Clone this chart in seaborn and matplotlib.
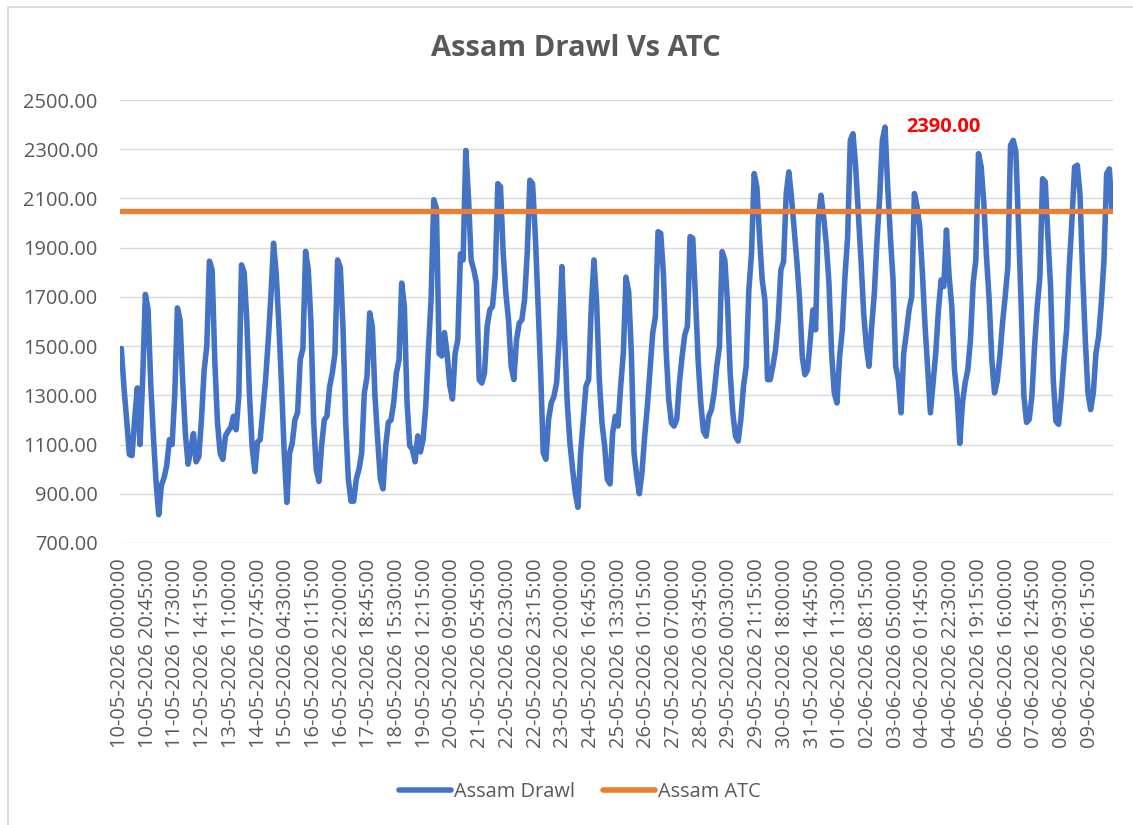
import numpy as np
import pandas as pd
import matplotlib
matplotlib.use('Agg')
import matplotlib.pyplot as plt
import seaborn as sns
from matplotlib.lines import Line2D
from matplotlib.patches import Rectangle

# Assam drawl every 2 hours (01:00, 03:00 ... 23:00), one row per day
week1 = [  # 10-05 .. 16-05
    1490, 1330, 1200, 1060, 1055, 1205, 1330, 1100, 1370, 1710, 1650, 1350,
    1135, 950, 815, 935, 965, 1015, 1120, 1100, 1300, 1655, 1605, 1350,
    1140, 1020, 1080, 1145, 1030, 1050, 1200, 1400, 1500, 1845, 1810, 1440,
    1190, 1065, 1040, 1135, 1155, 1170, 1215, 1160, 1300, 1830, 1800, 1600,
    1300, 1090, 990, 1110, 1120, 1240, 1360, 1520, 1700, 1918, 1795, 1585,
    1340, 1065, 865, 1065, 1105, 1200, 1230, 1445, 1490, 1885, 1810, 1600,
    1200, 1000, 950, 1095, 1200, 1215, 1335, 1390, 1470, 1850, 1820, 1580,
]
week2 = [  # 17-05 .. 23-05
    1200, 960, 870, 870, 960, 1000, 1065, 1310, 1375, 1635, 1580, 1295,
    1120, 960, 920, 1095, 1190, 1200, 1270, 1390, 1445, 1756, 1660, 1270,
    1095, 1080, 1030, 1135, 1070, 1120, 1255, 1485, 1690, 2095, 2060, 1470,
    1460, 1555, 1470, 1340, 1285, 1470, 1525, 1875, 1850, 2295, 2105, 1850,
    1810, 1756, 1364, 1350, 1391, 1580, 1647, 1661, 1783, 2160, 2147, 1877,
    1715, 1607, 1418, 1364, 1526, 1593, 1607, 1688, 1877, 2174, 2160, 1958,
    1688, 1404, 1066, 1040, 1202, 1269, 1296, 1350, 1539, 1823, 1539, 1269,
]
week3 = [  # 24-05 .. 30-05
    1107, 999, 904, 845, 1066, 1202, 1337, 1364, 1661, 1850, 1675, 1364,
    1188, 1094, 958, 940, 1148, 1215, 1175, 1337, 1472, 1780, 1720, 1472,
    1066, 972, 900, 990, 1134, 1256, 1404, 1553, 1620, 1965, 1958, 1796,
    1486, 1283, 1188, 1175, 1202, 1350, 1458, 1546, 1580, 1945, 1938, 1701,
    1445, 1269, 1154, 1134, 1215, 1242, 1310, 1418, 1499, 1884, 1850, 1675,
    1391, 1229, 1134, 1114, 1202, 1337, 1418, 1728, 1877, 2201, 2147, 1945,
    1769, 1688, 1364, 1364, 1418, 1486, 1607, 1810, 1843, 2120, 2208, 2100,
]
week4 = [  # 31-05 .. 06-06
    1972, 1843, 1688, 1458, 1384, 1404, 1526, 1647, 1566, 2012, 2113, 2026,
    1917, 1756, 1472, 1310, 1269, 1458, 1566, 1783, 1945, 2336, 2363, 2228,
    2039, 1850, 1634, 1499, 1418, 1580, 1715, 1931, 2107, 2336, 2390, 2147,
    1945, 1769, 1418, 1364, 1229, 1472, 1553, 1647, 1701, 2120, 2066, 1985,
    1796, 1580, 1404, 1229, 1350, 1472, 1647, 1769, 1742, 1972, 1783, 1661,
    1404, 1296, 1105, 1269, 1350, 1404, 1526, 1756, 1850, 2282, 2228, 2080,
    1864, 1688, 1445, 1310, 1357, 1458, 1593, 1701, 1823, 2316, 2336, 2290,
]
week5 = [  # 07-06 .. 09-06
    1985, 1661, 1296, 1190, 1202, 1296, 1499, 1661, 1783, 2180, 2167, 1945,
    1742, 1364, 1195, 1182, 1296, 1445, 1566, 1823, 2012, 2228, 2235, 2120,
    1796, 1526, 1310, 1242, 1310, 1472, 1539, 1675, 1850, 2201, 2220, 2050,
]
atc_level = 2050.0

y_ticks = [700, 900, 1100, 1300, 1500, 1700, 1900, 2100, 2300, 2500]
series_names = ['Assam Drawl', 'Assam ATC']
colors = ['#4472C4', '#ED7D31']

drawl = week1 + week2 + week3 + week4 + week5
times = pd.date_range('2026-05-10 01:00', periods=len(drawl), freq='2h')
df = pd.DataFrame({'time': times, 'drawl': drawl})
atc_df = pd.DataFrame({'time': [pd.Timestamp('2026-05-10 00:00'), pd.Timestamp('2026-06-09 23:45')],
                       'atc': [atc_level, atc_level]})

# x labels every 20h45m like the source sheet
tick_times = pd.date_range('2026-05-10 00:00', '2026-06-09 06:15', freq='1245min')
tick_labels = [t.strftime('%d-%m-%Y %H:%M:%S') for t in tick_times]

sns.set_style('white')
plt.rcParams['font.family'] = ['Open Sans', 'DejaVu Sans']
text_grey = '#595959'

fig = plt.figure(figsize=(11.33, 8.25), dpi=100)
ax = fig.add_axes([120 / 1133, 1 - 543 / 825, 993 / 1133, 443 / 825])

sns.lineplot(data=df, x='time', y='drawl', ax=ax, color=colors[0], lw=4.0,
             solid_joinstyle='round', solid_capstyle='round', zorder=3)
sns.lineplot(data=atc_df, x='time', y='atc', ax=ax, color=colors[1], lw=3.8, zorder=4)

ax.set_xlim(pd.Timestamp('2026-05-10 00:00'), pd.Timestamp('2026-06-09 23:45'))
ax.set_ylim(700, 2500)
ax.set_yticks(y_ticks)
ax.set_yticklabels([f'{v:.2f}' for v in y_ticks])
ax.set_xticks(tick_times)
ax.set_xticklabels(tick_labels, rotation=90)
ax.set_xlabel('')
ax.set_ylabel('')
ax.yaxis.grid(True, color='#D9D9D9', lw=1.0)
ax.xaxis.grid(False)
for s in ax.spines.values():
    s.set_visible(False)
ax.tick_params(axis='y', length=0, pad=16, labelsize=14.4, labelcolor=text_grey)
ax.tick_params(axis='x', length=0, pad=11, labelsize=14.4, labelcolor=text_grey)

# max data label
imax = int(np.argmax(drawl))
ax.annotate(f'{drawl[imax]:.2f}', xy=(times[imax], drawl[imax]), xytext=(15, 0),
            textcoords='offset points', ha='left', va='center',
            color='#FF0000', fontsize=14.4, fontweight='bold')

fig.text(576 / 1133, 1 - 48 / 825, 'Assam Drawl Vs ATC', ha='center', va='center',
         fontsize=21, fontweight='bold', color=text_grey)

handles = [Line2D([], [], color=c, lw=4, solid_capstyle='round') for c in colors]
fig.legend(handles, series_names, loc='center', bbox_to_anchor=(580 / 1133, 1 - 792 / 825),
           ncol=2, frameon=False, fontsize=14.4, handlelength=2.6, handletextpad=0.15,
           columnspacing=1.4, labelcolor=text_grey)

fig.patches.append(Rectangle((8 / 1133, -0.1), 1.2, 1.1 - 7 / 825, transform=fig.transFigure,
                             fill=False, ec='#D9D9D9', lw=1.3))

fig.savefig('out.png', dpi=100)
